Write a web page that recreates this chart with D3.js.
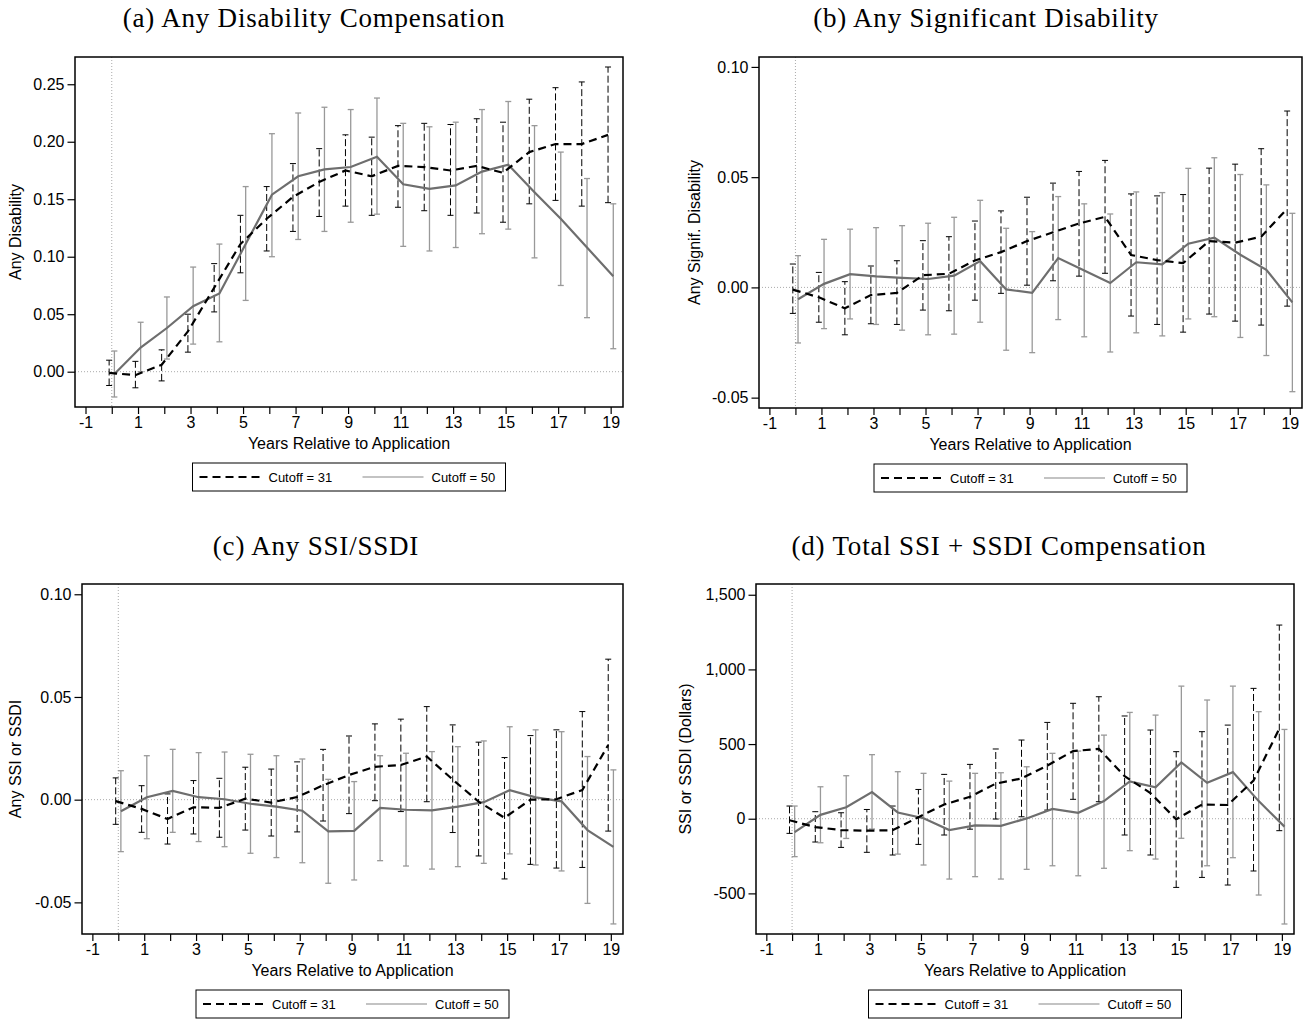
<!DOCTYPE html>
<html>
<head>
<meta charset="utf-8">
<script src="https://cdn.jsdelivr.net/npm/d3@7"></script>
<style>
  body { margin: 0; background: #fff; }
</style>
</head>
<body>
<div id="chart"></div>
<script>
// ---- data ----
const years = d3.range(0, 20)
const xTicks = d3.range(-1, 20)
const xLabels = d3.range(-1, 20, 2)
const seriesNames = ['Cutoff = 31', 'Cutoff = 50']

// (a) Any disability compensation
const anyDisTicks = [0, 0.05, 0.1, 0.15, 0.2, 0.25]
const anyDis31 = [-0.001, -0.003, 0.006, 0.035, 0.073, 0.111, 0.133, 0.152, 0.165, 0.175, 0.170, 0.179, 0.178, 0.175, 0.179, 0.173, 0.191, 0.198, 0.198, 0.206]
const anyDis31Lo = [-0.012, -0.014, -0.008, 0.017, 0.052, 0.086, 0.105, 0.122, 0.135, 0.144, 0.136, 0.143, 0.140, 0.136, 0.138, 0.130, 0.146, 0.149, 0.144, 0.147]
const anyDis31Hi = [0.010, 0.009, 0.019, 0.050, 0.094, 0.136, 0.161, 0.181, 0.194, 0.206, 0.204, 0.214, 0.216, 0.215, 0.220, 0.217, 0.237, 0.247, 0.252, 0.265]
const anyDis50 = [-0.002, 0.021, 0.038, 0.057, 0.068, 0.111, 0.154, 0.170, 0.176, 0.178, 0.187, 0.163, 0.159, 0.162, 0.174, 0.180, 0.156, 0.133, 0.108, 0.083]
const anyDis50Lo = [-0.022, 0.000, 0.011, 0.024, 0.026, 0.062, 0.100, 0.115, 0.122, 0.130, 0.137, 0.109, 0.105, 0.108, 0.120, 0.124, 0.099, 0.075, 0.047, 0.020]
const anyDis50Hi = [0.018, 0.043, 0.065, 0.091, 0.111, 0.161, 0.207, 0.225, 0.230, 0.228, 0.238, 0.216, 0.213, 0.217, 0.228, 0.235, 0.214, 0.191, 0.168, 0.146]

// (b) Any significant disability
const sigTicks = [-0.05, 0, 0.05, 0.1]
const sig31 = [-0.001, -0.0045, -0.0095, -0.0035, -0.0025, 0.0055, 0.0062, 0.0122, 0.016, 0.021, 0.025, 0.029, 0.032, 0.0147, 0.0124, 0.011, 0.021, 0.0203, 0.023, 0.0357]
const sig31Lo = [-0.0118, -0.0158, -0.0215, -0.0165, -0.0168, -0.0103, -0.0106, -0.0058, -0.0027, 0.001, 0.003, 0.0051, 0.0064, -0.013, -0.0168, -0.0203, -0.0121, -0.0153, -0.0171, -0.0085]
const sig31Hi = [0.0106, 0.0068, 0.0026, 0.0097, 0.0121, 0.0212, 0.023, 0.0301, 0.0347, 0.0409, 0.0473, 0.0526, 0.0576, 0.0424, 0.0415, 0.0421, 0.0541, 0.0559, 0.0629, 0.080]
const sig50 = [-0.0054, 0.0016, 0.006, 0.005, 0.0043, 0.0038, 0.0053, 0.0119, -0.0009, -0.0025, 0.0133, 0.0077, 0.002, 0.0114, 0.0105, 0.0198, 0.0226, 0.0148, 0.008, -0.0068]
const sig50Lo = [-0.0252, -0.0187, -0.0143, -0.0168, -0.0194, -0.0215, -0.0212, -0.0158, -0.0285, -0.0296, -0.0146, -0.0224, -0.0293, -0.0206, -0.022, -0.0143, -0.0133, -0.0227, -0.0309, -0.0473]
const sig50Hi = [0.0144, 0.0218, 0.0264, 0.0271, 0.028, 0.0291, 0.0318, 0.0395, 0.0268, 0.0253, 0.0412, 0.0379, 0.0333, 0.0433, 0.043, 0.054, 0.0588, 0.0512, 0.0465, 0.0336]

// (c) Any SSI/SSDI
const ssiTicks = [-0.05, 0, 0.05, 0.1]
const ssi31 = [-0.0007, -0.0045, -0.0094, -0.0037, -0.004, 0.0005, -0.0014, 0.0013, 0.007, 0.012, 0.016, 0.0169, 0.021, 0.0098, -0.001, -0.0088, 0, 0.0002, 0.0047, 0.0266]
const ssi31Lo = [-0.012, -0.0159, -0.0216, -0.0167, -0.0183, -0.0148, -0.0177, -0.0157, -0.0104, -0.0068, -0.0005, -0.0058, -0.001, -0.016, -0.0274, -0.0386, -0.0315, -0.0333, -0.033, -0.0153]
const ssi31Hi = [0.0106, 0.0068, 0.0028, 0.0093, 0.0104, 0.0158, 0.0149, 0.0184, 0.0245, 0.031, 0.0369, 0.0392, 0.0453, 0.0364, 0.028, 0.0205, 0.0312, 0.034, 0.0429, 0.0684]
const ssi50 = [-0.0056, 0.0012, 0.0043, 0.0012, 0.0002, -0.002, -0.0034, -0.0054, -0.0154, -0.0152, -0.004, -0.0049, -0.0052, -0.0034, -0.0012, 0.0046, 0.0011, -0.0008, -0.0148, -0.023]
const ssi50Lo = [-0.0253, -0.019, -0.0159, -0.0204, -0.0229, -0.0261, -0.0282, -0.0307, -0.0407, -0.0391, -0.0297, -0.0323, -0.0338, -0.0326, -0.031, -0.0264, -0.0318, -0.0347, -0.0505, -0.0605]
const ssi50Hi = [0.0141, 0.0214, 0.0245, 0.0229, 0.0232, 0.0221, 0.0214, 0.0198, 0.0099, 0.0088, 0.0214, 0.0226, 0.0234, 0.0258, 0.0286, 0.0355, 0.034, 0.0331, 0.021, 0.0145]

// (d) Total SSI + SSDI compensation (dollars)
const dolTicks = [-500, 0, 500, 1000, 1500]
const dol31 = [-10, -56, -76, -80, -77, 10, 95, 147, 235, 270, 356, 453, 468, 285, 172, -4, 95, 92, 255, 603]
const dol31Lo = [-98, -156, -192, -225, -243, -172, -109, -70, -2, 13, 58, 130, 114, -109, -243, -460, -393, -444, -350, -80]
const dol31Hi = [85, 47, 40, 62, 85, 196, 297, 364, 467, 527, 645, 773, 817, 688, 594, 449, 583, 627, 873, 1297]
const dol50 = [-90, 26, 77, 178, 42, 3, -76, -44, -48, 2, 66, 40, 118, 250, 211, 377, 241, 312, 118, -53]
const dol50Lo = [-254, -161, -132, -69, -237, -310, -404, -388, -404, -339, -315, -382, -332, -214, -270, -131, -315, -261, -511, -705]
const dol50Hi = [85, 214, 288, 429, 315, 304, 252, 304, 308, 348, 438, 453, 560, 712, 694, 888, 795, 888, 717, 598]

// ---- layout ----
const width = 1307
const height = 1020
const xDomain = [-1.4, 19.47]
const sans = "'Liberation Sans', Arial, Helvetica, sans-serif"
const serif = "'Liberation Serif', 'Times New Roman', serif"

const loc = d3.formatLocale({ decimal: '.', thousands: ',', grouping: [3], currency: ['$', ''], minus: '-' })
const fmt2 = loc.format('.2f')
const fmtInt = loc.format(',')

const panels = [
  {
    title: '(a) Any Disability Compensation', titleX: 314, titleY: 27,
    ylab: 'Any Disability', ylabX: 21,
    box: { l: 75, t: 57, r: 623, b: 407 }, yDomain: [-0.0307, 0.2737],
    yTicks: anyDisTicks, fmt: fmt2,
    s31: [anyDis31, anyDis31Lo, anyDis31Hi], s50: [anyDis50, anyDis50Lo, anyDis50Hi]
  },
  {
    title: '(b) Any Significant Disability', titleX: 986, titleY: 27,
    ylab: 'Any Signif. Disability', ylabX: 700,
    box: { l: 759, t: 57, r: 1302, b: 408 }, yDomain: [-0.0547, 0.1045],
    yTicks: sigTicks, fmt: fmt2,
    s31: [sig31, sig31Lo, sig31Hi], s50: [sig50, sig50Lo, sig50Hi]
  },
  {
    title: '(c) Any SSI/SSDI', titleX: 316, titleY: 555,
    ylab: 'Any SSI or SSDI', ylabX: 21,
    box: { l: 82, t: 584, r: 623, b: 934 }, yDomain: [-0.0654, 0.105],
    yTicks: ssiTicks, fmt: fmt2,
    s31: [ssi31, ssi31Lo, ssi31Hi], s50: [ssi50, ssi50Lo, ssi50Hi]
  },
  {
    title: '(d) Total SSI + SSDI Compensation', titleX: 999, titleY: 555,
    ylab: 'SSI or SSDI (Dollars)', ylabX: 691,
    box: { l: 756, t: 584, r: 1294, b: 934 }, yDomain: [-772, 1572],
    yTicks: dolTicks, fmt: fmtInt,
    s31: [dol31, dol31Lo, dol31Hi], s50: [dol50, dol50Lo, dol50Hi]
  }
]

const styles = [
  { key: 's31', dx: -0.1, color: '#000', width: 2.2, dash: '8,5', barColor: '#000', barWidth: 1, barDash: '7,3' },
  { key: 's50', dx: 0.1, color: '#6e6e6e', width: 2.2, dash: null, barColor: '#999', barWidth: 1.3, barDash: null }
]

const svg = d3
  .select('#chart')
  .append('svg')
  .attr('width', width)
  .attr('height', height)
  .style('font-family', sans)

panels.forEach(drawPanel)

function drawPanel(p) {
  const x = d3.scaleLinear().domain(xDomain).range([p.box.l, p.box.r])
  const y = d3.scaleLinear().domain(p.yDomain).range([p.box.b, p.box.t])
  const g = svg.append('g')
  const cx = (p.box.l + p.box.r) / 2

  // title
  g.append('text')
    .text(p.title)
    .attr('x', p.titleX)
    .attr('y', p.titleY)
    .attr('text-anchor', 'middle')
    .style('font-family', serif)
    .style('font-size', '27px')
    .style('letter-spacing', '0.8px')
    .attr('fill', '#000')

  // zero reference lines
  g.append('line')
    .attr('x1', p.box.l).attr('x2', p.box.r)
    .attr('y1', y(0)).attr('y2', y(0))
    .attr('stroke', '#aaa').attr('stroke-width', 1).attr('stroke-dasharray', '1,2')
  g.append('line')
    .attr('x1', x(0)).attr('x2', x(0))
    .attr('y1', p.box.t).attr('y2', p.box.b)
    .attr('stroke', '#aaa').attr('stroke-width', 1).attr('stroke-dasharray', '1,2')

  // confidence bars
  styles.forEach(s => {
    const [pt, lo, hi] = p[s.key]
    const bars = g.append('g')
    years.forEach((yr, i) => {
      const bx = x(yr + s.dx)
      bars.append('line')
        .attr('x1', bx).attr('x2', bx)
        .attr('y1', y(lo[i])).attr('y2', y(hi[i]))
        .attr('stroke', s.barColor).attr('stroke-width', s.barWidth)
        .attr('stroke-dasharray', s.barDash)
      ;[lo[i], hi[i]].forEach(v => {
        bars.append('line')
          .attr('x1', bx - 3).attr('x2', bx + 3)
          .attr('y1', y(v)).attr('y2', y(v))
          .attr('stroke', s.barColor).attr('stroke-width', s.barWidth)
      })
    })
  })

  // point estimate lines
  styles.slice().reverse().forEach(s => {
    const pt = p[s.key][0]
    const line = d3.line()
      .x((d, i) => x(years[i] + s.dx))
      .y(d => y(d))
    g.append('path')
      .datum(pt)
      .attr('d', line)
      .attr('fill', 'none')
      .attr('stroke', s.color)
      .attr('stroke-width', s.width)
      .attr('stroke-dasharray', s.dash)
  })

  // axes
  const yAxis = d3.axisLeft(y).tickValues(p.yTicks).tickFormat(p.fmt).tickSize(7.5).tickPadding(3)
  const ya = g.append('g').attr('transform', 'translate(' + p.box.l + ',0)').call(yAxis)
  ya.select('.domain').remove()
  ya.selectAll('line').attr('stroke', '#000').attr('stroke-width', 1.2)
  ya.selectAll('text').style('font-size', '16px').style('font-family', sans).attr('fill', '#000')

  const xAxis = d3.axisBottom(x).tickValues(xTicks)
    .tickFormat(d => (xLabels.includes(d) ? loc.format('d')(d) : ''))
    .tickSize(7).tickPadding(3)
  const xa = g.append('g').attr('transform', 'translate(0,' + p.box.b + ')').call(xAxis)
  xa.select('.domain').remove()
  xa.selectAll('line').attr('stroke', '#000').attr('stroke-width', 1.2)
  xa.selectAll('text').style('font-size', '16px').style('font-family', sans).attr('fill', '#000')

  // frame
  g.append('rect')
    .attr('x', p.box.l).attr('y', p.box.t)
    .attr('width', p.box.r - p.box.l).attr('height', p.box.b - p.box.t)
    .attr('fill', 'none').attr('stroke', '#000').attr('stroke-width', 1.5)

  // axis titles
  g.append('text')
    .text('Years Relative to Application')
    .attr('x', cx).attr('y', p.box.b + 42)
    .attr('text-anchor', 'middle')
    .style('font-size', '16px')
  g.append('text')
    .text(p.ylab)
    .attr('transform', 'translate(' + p.ylabX + ',' + (p.box.t + p.box.b) / 2 + ') rotate(-90)')
    .attr('text-anchor', 'middle')
    .style('font-size', '16px')

  // legend
  const lg = g.append('g').attr('transform', 'translate(' + (cx - 156.5) + ',' + (p.box.b + 56) + ')')
  lg.append('rect')
    .attr('width', 313).attr('height', 28)
    .attr('fill', '#fff').attr('stroke', '#000').attr('stroke-width', 1)
  const keyX = [7, 170]
  styles.forEach((s, i) => {
    lg.append('line')
      .attr('x1', keyX[i]).attr('x2', keyX[i] + 61)
      .attr('y1', 14).attr('y2', 14)
      .attr('stroke', s.key === 's31' ? s.color : '#888')
      .attr('stroke-width', s.key === 's31' ? 2 : 1.2)
      .attr('stroke-dasharray', s.dash)
    lg.append('text')
      .text(seriesNames[i])
      .attr('x', keyX[i] + 69)
      .attr('y', 18.5)
      .style('font-size', '13px')
  })
}
</script>
</body>
</html>
